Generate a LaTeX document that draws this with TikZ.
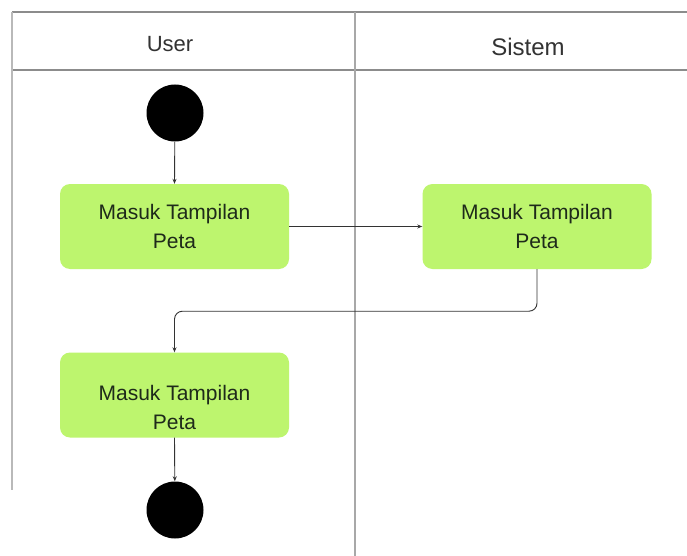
\documentclass[tikz,border=0pt]{standalone}
\usepackage{fontspec}
\setmainfont{Liberation Sans}
\usetikzlibrary{arrows.meta}
\definecolor{actgreen}{HTML}{BDF56E}
\definecolor{lanegray}{HTML}{8C8C8C}
\definecolor{divgray}{HTML}{A8A8A8}
\definecolor{conncol}{HTML}{333333}
\definecolor{txtcol}{HTML}{1E2A1A}
\tikzset{
  actbox/.style={draw=none, fill=actgreen, rounded corners=10pt, minimum width=229pt, minimum height=85pt, align=center, text=txtcol, font=\fontsize{21}{29}\selectfont},
  acttext/.style={align=center, text=txtcol, font=\fontsize{21}{29}\selectfont},
  dot/.style={circle, fill=black, minimum size=57pt, inner sep=0pt},
  conn/.style={draw=conncol, line width=0.9pt, -{Stealth[length=5pt,width=4pt]}},
  laneline/.style={draw=lanegray, line width=1.4pt},
  divline/.style={draw=divgray, line width=1.2pt},
  lanetitle/.style={text=black!80}
}
\begin{document}
\begin{tikzpicture}[x=1pt,y=-1pt]
\useasboundingbox (0,0) rectangle (687,556);
\fill[white] (0,0) rectangle (687,556);
% swimlane frame
\draw[laneline] (12,12) -- (687,12);
\draw[laneline] (12,70) -- (687,70);
\draw[divline, draw=divgray!80] (12,12) -- (12,490);
\draw[divline] (355,12) -- (355,556);
\node[lanetitle, font=\fontsize{22}{26}\selectfont] (laneUser) at (170,44) {User};
\node[lanetitle, font=\fontsize{24}{28}\selectfont] (laneSys) at (528,47) {Sistem};
% nodes
\node[dot] (start) at (175,113) {};
\node[actbox] (box1) at (174.5,226.5) {Masuk Tampilan\\Peta};
\node[actbox] (box2) at (537,226.5) {Masuk Tampilan\\Peta};
\node[actbox] (box3) at (174.5,395) {};
\node[acttext] (box3text) at ([yshift=-12pt]box3.center) {Masuk Tampilan\\Peta};
\node[dot] (stop) at (175,510) {};
% connectors
\draw[conn] (start) -- (box1.north);
\draw[conn] (box1.east) -- (box2.west);
\draw[conn, rounded corners=8pt] (box2.south) -- ++(0,42) -| (box3.north);
\draw[conn] (box3.south) -- (stop);
\end{tikzpicture}
\end{document}
